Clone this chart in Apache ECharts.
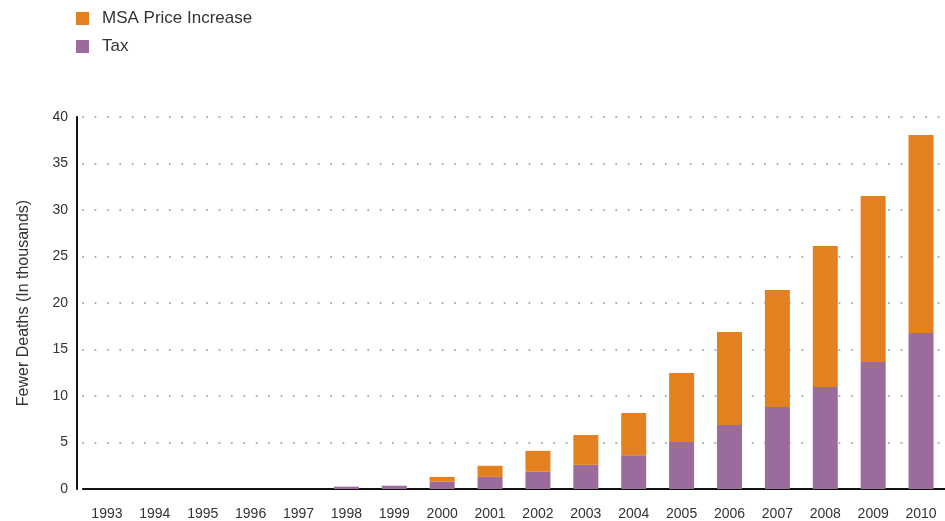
<!DOCTYPE html>
<html>
<head>
<meta charset="utf-8">
<script src="https://cdn.jsdelivr.net/npm/echarts@6/dist/echarts.min.js"></script>
<style>html,body{margin:0;padding:0;background:#fff}#c{width:945px;height:521px}</style>
</head>
<body>
<div id="c"></div>
<script>
const years = ['1993','1994','1995','1996','1997','1998','1999','2000','2001','2002','2003','2004','2005','2006','2007','2008','2009','2010'];
const taxValues = [0,0,0,0,0,0.25,0.35,0.8,1.3,1.85,2.6,3.63,5.05,6.88,8.82,10.97,13.66,16.77];
const msaValues = [0,0,0,0,0,0,0,0.5,1.2,2.25,3.2,4.54,7.42,10.0,12.58,15.16,17.84,21.29];
const yTicks = [0,5,10,15,20,25,30,35,40];
const seriesNames = ['MSA Price Increase','Tax'];
const colors = {msa:'#E4801F', tax:'#9B6B9E'};
const font = 'Liberation Sans, Arial, sans-serif';

const chart = echarts.init(document.getElementById('c'), null, {renderer:'canvas'});
chart.setOption({
  animation:false,
  textStyle:{fontFamily:font},
  legend:{
    orient:'vertical', left:71, top:5, itemWidth:13, itemHeight:13, itemGap:11,
    icon:'rect',
    data:[seriesNames[0], seriesNames[1]],
    textStyle:{fontSize:17, color:'#333', fontFamily:font, padding:[0,0,0,8]}
  },
  grid:{left:83, right:0, top:117, bottom:32, containLabel:false},
  xAxis:{
    type:'category', data:years,
    axisLine:{lineStyle:{color:'#111', width:2}},
    axisTick:{show:false},
    axisLabel:{color:'#333', fontSize:14, margin:18, fontFamily:font, interval:0}
  },
  yAxis:{
    type:'value', min:0, max:40, interval:5, offset:6,
    name:'Fewer Deaths (In thousands)', nameLocation:'middle', nameGap:45,
    nameTextStyle:{color:'#333', fontSize:16, fontFamily:font},
    axisLine:{show:true, lineStyle:{color:'#111', width:2}},
    axisTick:{show:false},
    axisLabel:{color:'#333', fontSize:14, margin:9, fontFamily:font,
      formatter:v => yTicks.includes(v) ? String(v) : ''},
    splitLine:{show:true, lineStyle:{color:'#a8a8a8', width:2, type:[0.1,12.3], cap:'round'}}
  },
  series:[
    {name:seriesNames[1], type:'bar', stack:'s', data:taxValues, barWidth:25, itemStyle:{color:colors.tax}},
    {name:seriesNames[0], type:'bar', stack:'s', data:msaValues, barWidth:25, itemStyle:{color:colors.msa}}
  ]
});
</script>
</body>
</html>
